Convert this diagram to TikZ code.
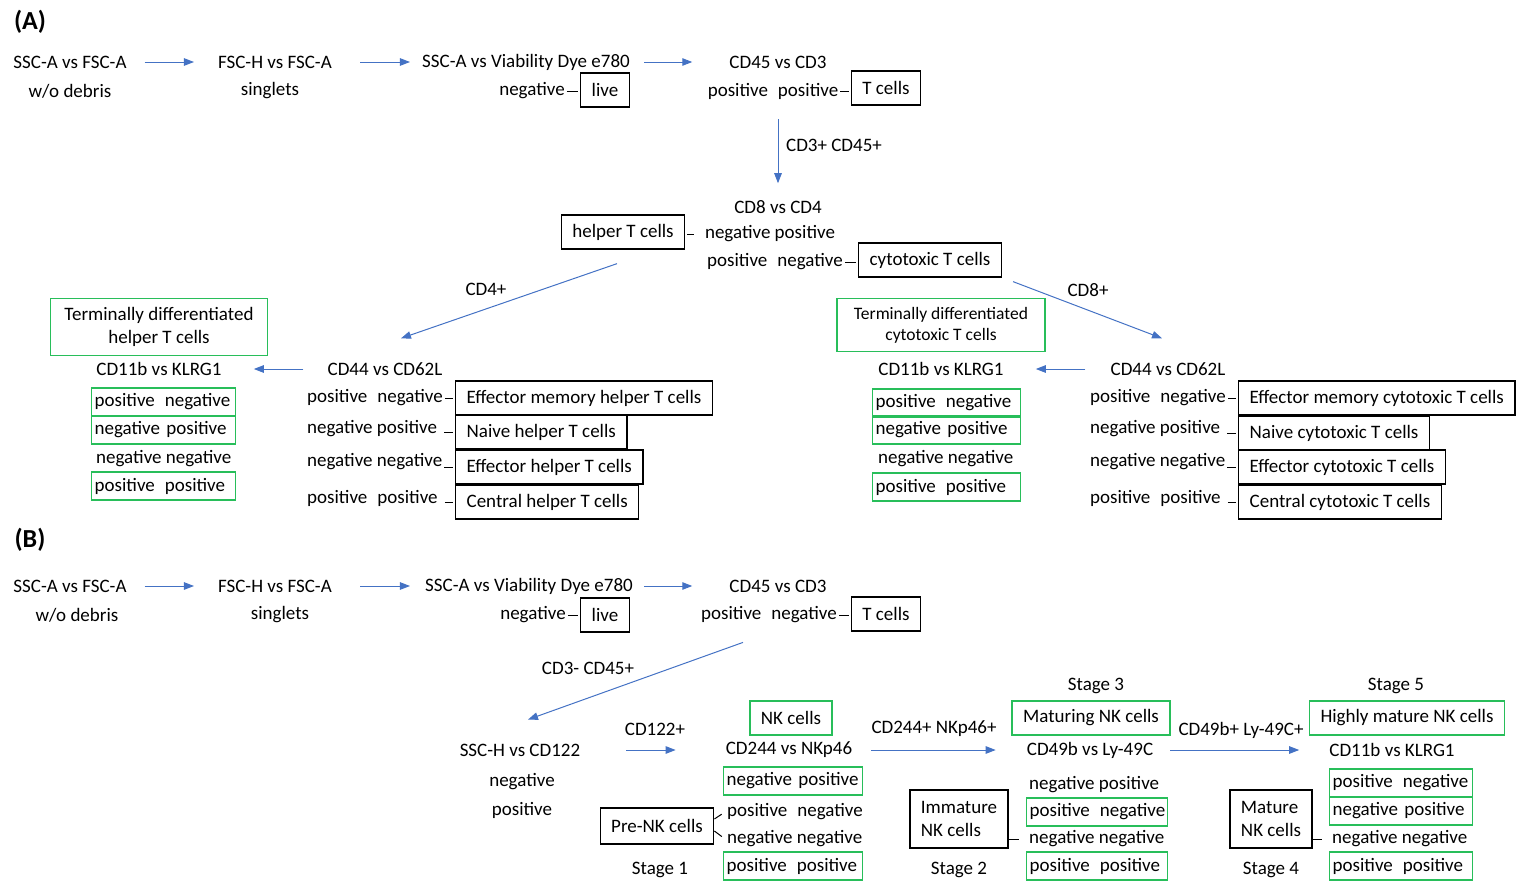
\documentclass[tikz,border=0pt]{standalone}
\usepackage{fontspec}
\setmainfont{Carlito}
\usetikzlibrary{arrows.meta,positioning,calc}
\definecolor{flowblue}{RGB}{68,114,196}
\definecolor{nkgreen}{RGB}{40,190,90}
\newcommand{\twosp}{\hspace{10pt}}

\begin{document}
\begin{tikzpicture}[x=1pt, y=-1pt,
    font=\fontsize{19}{23}\selectfont,
    every node/.style={inner sep=2pt},
    flow/.style={draw=flowblue, line width=1pt, -{Triangle[length=10pt,width=7.5pt]}},
    cellbox/.style={draw, line width=1.3pt, inner xsep=11pt, inner ysep=0pt, minimum height=34pt},
    gatebox/.style={draw=nkgreen, line width=1.3pt, inner xsep=11pt, inner ysep=0pt, minimum height=34pt},
    rowbox/.style={draw=nkgreen, line width=1.3pt, inner xsep=3pt, inner ysep=0pt, text width=#1, align=left, minimum height=28pt, anchor=west},
    rowbox/.default=138pt,
    row/.style={anchor=west},
    tick/.style={line width=1pt, shorten >=2pt}]
    \useasboundingbox (0,0) rectangle (1529,894);

    % Panel A: gating
    \node[font=\fontsize{26}{30}\selectfont\bfseries] (labA) at (30,22) {(A)};
    \node (a1) at (70,62) {SSC-A vs FSC-A};
    \node (a1g) at (70,91) {w/o debris};
    \node (a2) at (275,62) {FSC-H vs FSC-A};
    \node (a2g) at (270,91) {singlets};
    \node (a3) at (526,62) {SSC-A vs Viability Dye e780};
    \node (a3g) at (532,91) {negative};
    \node[cellbox] (alive) at (605,90) {live};
    \node (a4) at (778,62) {CD45 vs CD3};
    \node (a4g) at (773,91) {positive\twosp positive};
    \node[cellbox] (atcell) at (886,88) {T cells};
    \draw[flow, shorten <=16pt, shorten >=22pt] (a1) -- (a2);
    \draw[flow, shorten <=26pt, shorten >=10pt] (a2) -- (a3);
    \draw[flow, shorten <=12pt, shorten >=35pt] (a3) -- (a4);
    \draw[tick] (a3g.east) -- (a3g.east -| alive.west);
    \draw[tick] (a4g.east) -- (a4g.east -| atcell.west);

    % CD8 vs CD4
    \node (cd8) at (778,207) {CD8 vs CD4};
    \node (cd8r1) at (770,234) {negative positive};
    \node (cd8r2) at (775,262) {positive\twosp negative};
    \node[cellbox] (helper) at (623,232) {helper T cells};
    \node[cellbox] (cytotox) at (930,260) {cytotoxic T cells};
    \draw[flow, shorten <=18pt, shorten >=15pt] (a4g.south -| cd8.north) -- (cd8.north);
    \node (l345) at (834,145) {CD3+ CD45+};
    \draw[tick, shorten <=9pt] (cd8r1.west) -- (cd8r1.west -| helper.east);
    \draw[tick] (cd8r2.east) -- (cd8r2.east -| cytotox.west);

    % helper branch
    \node (cd44L) at (385,369) {CD44 vs CD62L};
    \node (cd11L) at (159,369) {CD11b vs KLRG1};
    \draw[flow] ($(helper.south)+(-6,14)$) -- ($(cd44L.north)+(16,-22)$);
    \node (l4) at (486,289) {CD4+};
    \draw[flow, shorten <=22pt, shorten >=30pt] (cd44L) -- (cd11L);
    \node[gatebox, align=center, inner xsep=14pt, minimum height=57pt] (tdh) at (159,327) {Terminally differentiated\\helper T cells};
    \node[rowbox] (kL1) at (91,402) {\mbox{positive\twosp negative}};
    \node[rowbox] (kL2) at (91,430) {\mbox{negative positive}};
    \node[row] (kL3) at (94,459) {negative negative};
    \node[rowbox] (kL4) at (91,486) {\mbox{positive\twosp positive}};
    \node[row] (pL1) at (305,398) {positive\twosp negative};
    \node[row] (pL2) at (305,429) {negative positive};
    \node[row] (pL3) at (305,462) {negative negative};
    \node[row] (pL4) at (305,498) {positive\twosp positive};
    \node[cellbox, anchor=west] (eL1) at (455,398) {Effector memory helper T cells};
    \node[cellbox, anchor=west] (eL2) at (455,432) {Naive helper T cells};
    \node[cellbox, anchor=west] (eL3) at (455,467) {Effector helper T cells};
    \node[cellbox, anchor=west] (eL4) at (455,502) {Central helper T cells};
    \draw[tick] (pL1.east |- eL1.west) -- (eL1.west);
    \draw[tick, shorten <=5pt] (pL2.east |- eL2.west) -- (eL2.west);
    \draw[tick] (pL3.east |- eL3.west) -- (eL3.west);
    \draw[tick, shorten <=5pt] (pL4.east |- eL4.west) -- (eL4.west);

    % cytotoxic branch
    \node (cd44R) at (1168,369) {CD44 vs CD62L};
    \node (cd11R) at (941,369) {CD11b vs KLRG1};
    \draw[flow] ($(cytotox.south east)+(11,4)$) -- ($(cd44R.north)+(-6,-22)$);
    \node (l8) at (1088,290) {CD8+};
    \draw[flow, shorten <=23pt, shorten >=30pt] (cd44R) -- (cd11R);
    \node[gatebox, align=center, inner xsep=17pt, minimum height=53pt, font=\fontsize{17.5}{21}\selectfont] (tdc) at (941,325) {Terminally differentiated\\cytotoxic T cells};
    \node[rowbox=142pt] (kR1) at (872,403) {\mbox{positive\twosp negative}};
    \node[rowbox=142pt] (kR2) at (872,430) {\mbox{negative positive}};
    \node[row] (kR3) at (876,459) {negative negative};
    \node[rowbox=142pt] (kR4) at (872,487) {\mbox{positive\twosp positive}};
    \node[row] (pR1) at (1088,398) {positive\twosp negative};
    \node[row] (pR2) at (1088,429) {negative positive};
    \node[row] (pR3) at (1088,462) {negative negative};
    \node[row] (pR4) at (1088,498) {positive\twosp positive};
    \node[cellbox, anchor=west] (eR1) at (1238,398) {Effector memory cytotoxic T cells};
    \node[cellbox, anchor=west] (eR2) at (1238,433) {Naive cytotoxic T cells};
    \node[cellbox, anchor=west] (eR3) at (1238,467) {Effector cytotoxic T cells};
    \node[cellbox, anchor=west] (eR4) at (1238,502) {Central cytotoxic T cells};
    \draw[tick] (pR1.east |- eR1.west) -- (eR1.west);
    \draw[tick, shorten <=5pt] (pR2.east |- eR2.west) -- (eR2.west);
    \draw[tick] (pR3.east |- eR3.west) -- (eR3.west);
    \draw[tick, shorten <=5pt] (pR4.east |- eR4.west) -- (eR4.west);

    % Panel B: gating
    \node[font=\fontsize{26}{30}\selectfont\bfseries] (labB) at (30,540) {(B)};
    \node (b1) at (70,586) {SSC-A vs FSC-A};
    \node (b1g) at (77,615) {w/o debris};
    \node (b2) at (275,586) {FSC-H vs FSC-A};
    \node (b2g) at (280,615) {singlets};
    \node (b3) at (529,586) {SSC-A vs Viability Dye e780};
    \node (b3g) at (533,615) {negative};
    \node[cellbox] (blive) at (605,615) {live};
    \node (b4) at (778,586) {CD45 vs CD3};
    \node (b4g) at (769,615) {positive\twosp negative};
    \node[cellbox] (btcell) at (886,614) {T cells};
    \draw[flow, shorten <=16pt, shorten >=22pt] (b1) -- (b2);
    \draw[flow, shorten <=26pt, shorten >=13pt] (b2) -- (b3);
    \draw[flow, shorten <=9pt, shorten >=35pt] (b3) -- (b4);
    \draw[tick] (b3g.east) -- (b3g.east -| blive.west);
    \draw[tick] (b4g.east) -- (b4g.east -| btcell.west);

    % NK cells
    \node (ssch) at (520,750) {SSC-H vs CD122};
    \node (sschn) at (522,782) {negative};
    \node (sschp) at (522,810) {positive};
    \draw[flow] ($(b4g.south)+(-26,17)$) -- ($(ssch.north)+(8,-22)$);
    \node (l3m) at (588,668) {CD3- CD45+};
    \node (cd244) at (789,750) {CD244 vs NKp46};
    \draw[flow, shorten <=44pt, shorten >=48pt] (ssch) -- (cd244);
    \node (l122) at (655,729) {CD122+};
    \node[gatebox] (nk) at (791,718) {NK cells};
    \node[rowbox=133pt] (nr1) at (723,781) {\mbox{negative positive}};
    \node[row] (nr2) at (725,812) {positive\twosp negative};
    \node[row] (nr3) at (725,839) {negative negative};
    \node[rowbox=133pt] (nr4) at (723,866) {\mbox{positive\twosp positive}};
    \node[cellbox, minimum height=36pt] (prenk) at (657,826) {Pre-NK cells};
    \draw[tick, shorten >=4pt] ([yshift=7pt]prenk.east) -- (nr2.west);
    \draw[tick, shorten >=4pt] ([yshift=-5pt]prenk.east) -- (nr3.west);
    \node (st1) at (660,870) {Stage 1};

    % Stage 2 and 3
    \node (cd49) at (1090,750) {CD49b vs Ly-49C};
    \draw[flow, shorten <=17pt, shorten >=29pt] (cd244) -- (cd49);
    \node (l244) at (934,729) {CD244+ NKp46+};
    \node (st3) at (1096,686) {Stage 3};
    \node[gatebox] (matur) at (1091,718) {Maturing NK cells};
    \node[row] (mr1) at (1027,785) {negative positive};
    \node[rowbox=135pt] (mr2) at (1026,812) {\mbox{positive\twosp negative}};
    \node[row] (mr3) at (1027,839) {negative negative};
    \node[rowbox=135pt] (mr4) at (1026,866) {\mbox{positive\twosp positive}};
    \node[cellbox, align=left, minimum height=58pt] (immat) at (959,819) {Immature\\NK cells};
    \draw[tick, shorten >=8pt] (immat.east |- mr3.west) -- (mr3.west);
    \node (st2) at (959,870) {Stage 2};

    % Stage 4 and 5
    \node (cd11B) at (1392,750) {CD11b vs KLRG1};
    \draw[flow, shorten <=15pt, shorten >=28pt] (cd49) -- (cd11B);
    \node (l49) at (1241,730) {CD49b+ Ly-49C+};
    \node (st5) at (1396,686) {Stage 5};
    \node[gatebox] (hmat) at (1407,718) {Highly mature NK cells};
    \node[rowbox=137pt] (hr1) at (1329,783) {\mbox{positive\twosp negative}};
    \node[rowbox=137pt] (hr2) at (1329,811) {\mbox{negative positive}};
    \node[row] (hr3) at (1330,839) {negative negative};
    \node[rowbox=137pt] (hr4) at (1329,866) {\mbox{positive\twosp positive}};
    \node[cellbox, align=left, minimum height=58pt] (mat) at (1271,819) {Mature\\NK cells};
    \draw[tick, shorten >=8pt] (mat.east |- hr3.west) -- (hr3.west);
    \node (st4) at (1271,870) {Stage 4};
\end{tikzpicture}
\end{document}
